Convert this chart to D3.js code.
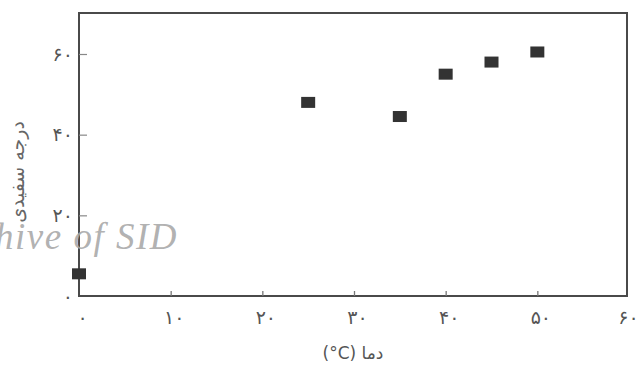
<!DOCTYPE html>
<html>
<head>
<meta charset="utf-8">
<script src="https://cdn.jsdelivr.net/npm/d3@7"></script>
<style>
  html, body { margin: 0; padding: 0; background: #fff; }
  svg { display: block; }
</style>
</head>
<body>
<svg id="chart" width="641" height="370"></svg>
<script>
// Temperature (°C) vs. whiteness degree
const temperatures = [0, 25, 35, 40, 45, 50];
const whiteness    = [5.5, 48, 44.5, 55, 58, 60.5];

const xTicks = [0, 10, 20, 30, 40, 50, 60];
const yTicks = [0, 20, 40, 60];

// LRM keeps the degree sign attached to the C inside the RTL title
const xTitle = "دما (\u200E°C)";
const yTitle = "درجه سفیدی";
const watermark = "Archive of SID";

// Persian digits for tick labels
const faDigits = "۰۱۲۳۴۵۶۷۸۹";
const toFa = n => String(n).replace(/\d/g, d => faDigits[+d]);

const svg = d3.select("#chart");
const frame = { left: 79, right: 627, top: 13, bottom: 296 };

const x = d3.scaleLinear().domain([0, 60]).range([frame.left, 629]);
const y = d3.scaleLinear().domain([0, 60]).range([frame.bottom, 54]);

const ink = "#4a4a4a";
const labelInk = "#555";

// plot frame
svg.append("rect")
  .attr("x", frame.left).attr("y", frame.top)
  .attr("width", frame.right - frame.left)
  .attr("height", frame.bottom - frame.top)
  .attr("fill", "none").attr("stroke", ink).attr("stroke-width", 2);

// x axis: inward ticks, labels below
const xAxis = d3.axisBottom(x).tickValues(xTicks).tickSize(-5).tickPadding(15).tickFormat(toFa);
const gx = svg.append("g").attr("transform", `translate(0,${frame.bottom})`).call(xAxis);
gx.select(".domain").remove();
gx.selectAll(".tick line").attr("stroke", "#777").attr("stroke-width", 1.3)
  .filter(d => d === 0 || d === 60).remove();
gx.selectAll(".tick text")
  .attr("font-family", "DejaVu Sans").attr("font-size", 19).attr("fill", labelInk)
  .style("letter-spacing", "7px")
  .attr("dx", d => d === 60 ? "-1px" : "3px");

// y axis: inward ticks, labels to the left
const yAxis = d3.axisLeft(y).tickValues(yTicks).tickSize(-8).tickPadding(6).tickFormat(toFa);
const gy = svg.append("g").attr("transform", `translate(${frame.left},0)`).call(yAxis);
gy.select(".domain").remove();
gy.selectAll(".tick line").attr("stroke", "#888").attr("stroke-width", 1.2)
  .filter(d => d === 0).remove();
gy.selectAll(".tick text")
  .attr("font-family", "DejaVu Sans").attr("font-size", 19).attr("fill", labelInk)
  .style("letter-spacing", "8px");

// square markers
const mw = 14, mh = 11;
svg.append("g").selectAll("rect")
  .data(temperatures.map((t, i) => ({ t, w: whiteness[i] })))
  .join("rect")
  .attr("x", d => x(d.t) - mw / 2)
  .attr("y", d => y(d.w) - mh / 2)
  .attr("width", mw).attr("height", mh)
  .attr("fill", "#333");

// axis titles
svg.append("text")
  .attr("x", (frame.left + frame.right) / 2).attr("y", 359)
  .attr("text-anchor", "middle").attr("direction", "rtl")
  .attr("font-family", "DejaVu Sans").attr("font-size", 17).attr("fill", labelInk)
  .text(xTitle);

svg.append("text")
  .attr("transform", "translate(24,172) rotate(-90)")
  .attr("text-anchor", "middle").attr("direction", "rtl")
  .attr("font-family", "DejaVu Sans").attr("font-size", 19).attr("fill", "#666")
  .text(yTitle);

// archive stamp
svg.append("text")
  .attr("x", 178).attr("y", 249)
  .attr("text-anchor", "end")
  .attr("font-family", "Liberation Serif").attr("font-style", "italic")
  .attr("font-size", 37).attr("fill", "#a8a8a8").attr("fill-opacity", 0.9)
  .style("letter-spacing", "1.5px")
  .text(watermark);
</script>
</body>
</html>
